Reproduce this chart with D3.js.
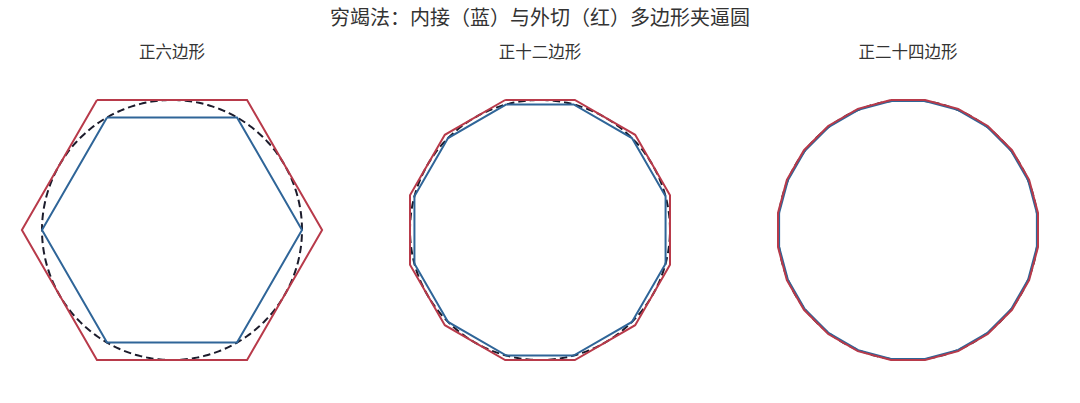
<!DOCTYPE html>
<html>
<head>
<meta charset="utf-8">
<script src="https://cdn.jsdelivr.net/npm/d3@7"></script>
<style>
  html, body { margin: 0; padding: 0; background: #fff; }
  svg { display: block; font-family: "Noto Sans CJK SC", "Noto Sans", sans-serif; }
</style>
</head>
<body>
<svg id="chart" width="1080" height="403"></svg>
<script>
const chartTitle = "穷竭法：内接（蓝）与外切（红）多边形夹逼圆";
const panelTitles = ["正六边形", "正十二边形", "正二十四边形"];
const sides = [6, 12, 24];
const radius = [1];
const colors = { inner: "#2f6598", outer: "#b83a4a", circle: "#1c1c2c", text: "#333333" };

const W = 1080, H = 403;
const svg = d3.select("#chart");

svg.append("text")
  .attr("x", 540).attr("y", 25)
  .attr("text-anchor", "middle")
  .attr("font-size", 20)
  .attr("fill", colors.text)
  .text(chartTitle);

const panelX = d3.scalePoint().domain(d3.range(sides.length)).range([172, 908]);
const cy = 230, pix = 130;

function polygon(n, R) {
  const off = Math.PI / 2 + Math.PI / n;
  return d3.range(n + 1).map(k => {
    const t = off + 2 * Math.PI * k / n;
    return [R * Math.cos(t), R * Math.sin(t)];
  });
}

sides.forEach((n, i) => {
  const cx = panelX(i);
  const x = d3.scaleLinear().domain([-1, 1]).range([cx - pix, cx + pix]);
  const y = d3.scaleLinear().domain([-1, 1]).range([cy + pix, cy - pix]);
  const g = svg.append("g");

  g.append("text")
    .attr("x", cx).attr("y", 58)
    .attr("text-anchor", "middle")
    .attr("font-size", 16.5)
    .attr("fill", colors.text)
    .text(panelTitles[i]);

  const line = d3.line().x(d => x(d[0])).y(d => y(d[1]));
  const r = radius[0];
  const circ = d3.range(361).map(a => [r * Math.cos(a * Math.PI / 180), r * Math.sin(a * Math.PI / 180)]);

  g.append("path").attr("d", line(circ))
    .attr("fill", "none").attr("stroke", colors.circle)
    .attr("stroke-width", 2).attr("stroke-dasharray", "7.5,4");

  g.append("path").attr("d", line(polygon(n, r)))
    .attr("fill", "none").attr("stroke", colors.inner)
    .attr("stroke-width", 2).attr("stroke-linejoin", "miter");

  g.append("path").attr("d", line(polygon(n, r / Math.cos(Math.PI / n))))
    .attr("fill", "none").attr("stroke", colors.outer)
    .attr("stroke-width", 2).attr("stroke-linejoin", "miter");
});
</script>
</body>
</html>
